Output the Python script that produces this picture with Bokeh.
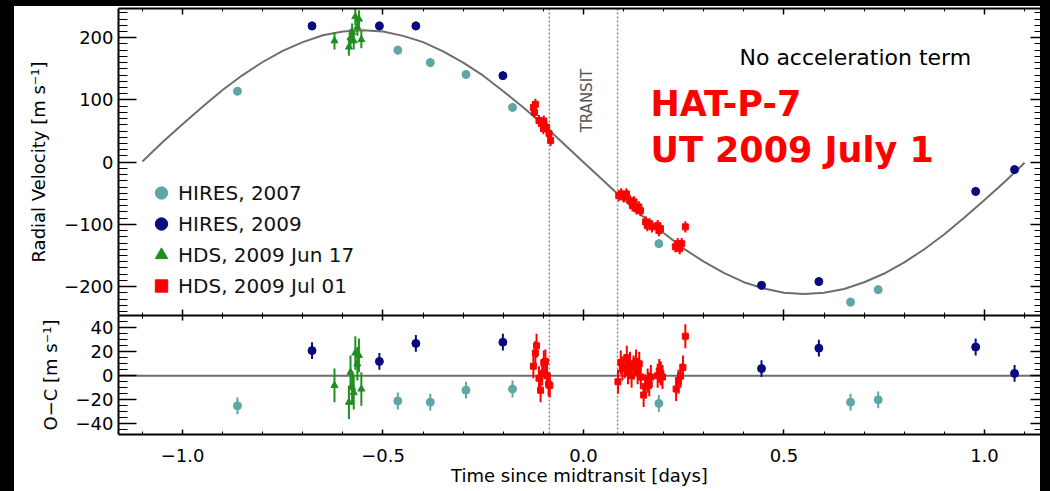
from bokeh.plotting import figure
from bokeh.models import (Range1d, LinearAxis, SingleIntervalTicker, CustomJSTickFormatter,
                          CustomLabelingPolicy, Span, Label, Legend, LegendItem,
                          ColumnDataSource, Spacer)
from bokeh.layouts import column, row
from bokeh.embed import file_html
from bokeh.resources import INLINE

# ---------------- data ----------------
# HIRES 2007
h07_t = [-0.863, -0.463, -0.382, -0.293, -0.177, 0.188, 0.666, 0.735]
h07_rv = [114, 180, 160, 141, 88, -131, -225, -205]
h07_oc = [-25, -21, -22, -12, -11, -23, -22, -20]
h07_err = [7, 7, 7, 7, 7, 7, 7, 7]

# HIRES 2009
h09_t = [-0.677, -0.509, -0.418, -0.201, 0.444, 0.587, 0.978, 1.075]
h09_rv = [219, 219, 219, 139, -198, -192, -47, -12]
h09_oc = [21, 12, 27, 28, 6, 23, 24, 2]
h09_err = [7, 7, 7, 7, 7, 7, 7, 7]

# HDS 2009 Jun 17
jun_t = [-0.621, -0.585, -0.581, -0.577, -0.573, -0.569, -0.564, -0.560, -0.554]
jun_rv = [195, 185, 200, 209, 195, 234, 217, 230, 197]
jun_oc = [-8, -22, 3, -10, -14, 19, 10, 17, -11]
jun_err = [14, 14, 14, 14, 14, 14, 14, 14, 14]

# HDS 2009 Jul 01 (radial velocity panel)
jul_t = [-0.125, -0.120, -0.122, -0.111, -0.105, -0.099, -0.100, -0.092, -0.086, -0.082,
         0.088, 0.094, 0.100, 0.107, 0.116, 0.122, 0.126, 0.132, 0.138, 0.142, 0.155,
         0.159, 0.165, 0.171, 0.185, 0.188, 0.192, 0.229, 0.235, 0.240, 0.245, 0.254]
jul_rv = [88, 93, 80, 67, 62, 66, 54, 56, 46, 35,
          -54, -51, -56, -51, -62, -70, -64, -75, -72, -78, -96,
          -102, -99, -104, -102, -110, -107, -136, -131, -139, -131, -104]
jul_err = [9] * 32

# HDS 2009 Jul 01 (residual panel)
julr_t = [-0.125, -0.120, -0.117, -0.111, -0.107, -0.103, -0.099, -0.095, -0.091, -0.087, -0.084,
          0.086, 0.093, 0.097, 0.103, 0.108, 0.111, 0.116, 0.120, 0.125, 0.131, 0.135, 0.139,
          0.143, 0.150, 0.154, 0.160, 0.164, 0.168, 0.185, 0.189, 0.193, 0.197, 0.231, 0.237,
          0.242, 0.248, 0.254]
julr_oc = [8, 19, 25, -2, -12, 2, 11, 12, 0, -7, -8,
           -5, 11, 6, 8, 15, 3, 10, 0, 7, 12, 3, 10,
           -1, -16, -9, -4, -7, -1, 0, 4, 2, -1, -11, -5,
           0, 7, 33]
julr_err = [10] * 38

# model curve
curve_t = [-1.10, -1.05, -1.00, -0.95, -0.90, -0.85, -0.80, -0.75, -0.70, -0.65, -0.60,
           -0.55, -0.50, -0.45, -0.40, -0.35, -0.30, -0.25, -0.20, -0.15, -0.10, -0.05,
           0.00, 0.05, 0.10, 0.15, 0.20, 0.25, 0.30, 0.35, 0.40, 0.45, 0.50, 0.55, 0.60,
           0.65, 0.70, 0.75, 0.80, 0.85, 0.90, 0.95, 1.00, 1.05, 1.10]
curve_rv = [1, 32, 61, 89, 116, 140, 161, 179, 193, 204, 210,
            212, 210, 203, 193, 178, 160, 139, 114, 88, 60, 30,
            0, -30, -60, -88, -114, -139, -160, -178, -193, -203, -210, -212, -210,
            -204, -193, -179, -161, -140, -116, -89, -61, -32, -1]

transit_edges = [-0.085, 0.085]

series_labels = ["HIRES, 2007", "HIRES, 2009", "HDS, 2009 Jun 17", "HDS, 2009 Jul 01"]

# ---------------- style ----------------
FONT = "DejaVu Sans"
C07 = "#5fa6a6"
C09 = "#0a0a80"
CJUN = "#1f8f1f"
CJUL = "#ff0000"
GREY = "#6e6e6e"
X_RANGE = (-1.1596, 1.1397)

xfmt = CustomJSTickFormatter(code="return tick.toFixed(1).replace('-', '\\u2212');")
yfmt = CustomJSTickFormatter(code="return tick.toFixed(0).replace('-', '\\u2212');")
blankfmt = CustomJSTickFormatter(code="return '';")
hide_all = CustomLabelingPolicy(code="for (const i of Array.from(indices)) { indices.unset(i) }; return indices")


def base_fig(height, yr, mb_top, mb_bottom):
    p = figure(width=1026, height=height, x_range=Range1d(*X_RANGE), y_range=Range1d(*yr),
               output_backend="svg", toolbar_location=None,
               min_border_left=104, min_border_right=0,
               min_border_top=mb_top, min_border_bottom=mb_bottom)
    p.xgrid.visible = False
    p.ygrid.visible = False
    p.outline_line_color = None
    p.background_fill_color = "white"
    p.border_fill_color = "white"
    return p


def common_ticks(ax, tick_major, tick_minor, line=True):
    ax.major_tick_in = tick_major
    ax.major_tick_out = 0
    ax.minor_tick_in = tick_minor
    ax.minor_tick_out = 0
    ax.major_tick_line_width = 1.5
    ax.minor_tick_line_width = 1
    ax.major_tick_line_color = "black"
    ax.minor_tick_line_color = "black"
    ax.axis_line_width = 2
    ax.axis_line_color = "black" if line else None


def labels_on(ax, fmt):
    ax.formatter = fmt
    ax.major_label_text_font = FONT
    ax.major_label_text_font_size = "18px"
    ax.major_label_text_color = "black"


def labels_off(ax):
    ax.formatter = blankfmt
    ax.major_label_policy = hide_all
    ax.major_label_text_font_size = "1px"
    ax.major_label_standoff = 0
    ax.axis_label = None


def style_x(ax, tick_major, tick_minor, labels):
    ax.ticker = SingleIntervalTicker(interval=0.5, num_minor_ticks=5)
    common_ticks(ax, tick_major, tick_minor)
    if labels:
        labels_on(ax, xfmt)
        ax.major_label_standoff = 14
    else:
        labels_off(ax)


def style_y(ax, interval, nminor, tick_major, tick_minor, labels, line=True):
    ax.ticker = SingleIntervalTicker(interval=interval, num_minor_ticks=nminor)
    common_ticks(ax, tick_major, tick_minor, line)
    if labels:
        labels_on(ax, yfmt)
        ax.major_label_standoff = 5
    else:
        labels_off(ax)


def axis_title(ax, text, standoff):
    ax.axis_label = text
    ax.axis_label_text_font = FONT
    ax.axis_label_text_font_size = "18px"
    ax.axis_label_text_font_style = "normal"
    ax.axis_label_text_color = "black"
    ax.axis_label_standoff = standoff


def errbars(p, t, v, e, color, width):
    src = ColumnDataSource(dict(x=t, lo=[a - b for a, b in zip(v, e)],
                                hi=[a + b for a, b in zip(v, e)]))
    p.segment(x0="x", y0="lo", x1="x", y1="hi", source=src, line_color=color, line_width=width)


def points(p, t, v, marker, size, color):
    return p.scatter(t, v, marker=marker, size=size, fill_color=color, line_color=color)


# ---------------- top panel ----------------
p1 = base_fig(309, (-246.5, 247), 2, 0)
style_x(p1.xaxis[0], 6, 3, False)
top1 = LinearAxis()
p1.add_layout(top1, "above")
style_x(top1, 6, 3, False)
style_y(p1.yaxis[0], 100, 10, 18, 9, True)
right1 = LinearAxis()
p1.add_layout(right1, "right")
style_y(right1, 100, 10, 10, 6, False, line=False)
axis_title(p1.yaxis[0], "Radial Velocity [m s\u207b\u00b9]", 12)

for loc in transit_edges:
    p1.add_layout(Span(location=loc, dimension="height", line_color="#8a8a8a",
                       line_width=1.5, line_dash="2 2", level="underlay"))

p1.line(curve_t, curve_rv, line_color=GREY, line_width=2)

errbars(p1, h07_t, h07_rv, h07_err, C07, 2)
r07 = points(p1, h07_t, h07_rv, "circle", 8, C07)
errbars(p1, h09_t, h09_rv, h09_err, C09, 2)
r09 = points(p1, h09_t, h09_rv, "circle", 8, C09)
errbars(p1, jun_t, jun_rv, jun_err, CJUN, 2)
rjun = points(p1, jun_t, jun_rv, "triangle", 7, CJUN)
errbars(p1, jul_t, jul_rv, jul_err, CJUL, 2)
rjul = points(p1, jul_t, jul_rv, "square", 6, CJUL)

legend = Legend(items=[LegendItem(label=series_labels[0], renderers=[r07]),
                       LegendItem(label=series_labels[1], renderers=[r09]),
                       LegendItem(label=series_labels[2], renderers=[rjun]),
                       LegendItem(label=series_labels[3], renderers=[rjul])],
                location=(26, 14), glyph_width=34, glyph_height=31, spacing=0,
                label_standoff=0, padding=0, margin=0,
                label_text_font=FONT, label_text_font_size="20px",
                label_text_color="#111111",
                background_fill_alpha=0, border_line_color=None)
p1.add_layout(legend)

p1.add_layout(Label(x=0.389, y=168, text="No acceleration term", text_font=FONT,
                    text_font_size="22px", text_color="black", text_baseline="alphabetic"))
p1.add_layout(Label(x=0.01, y=99, text="TRANSIT", angle=1.5708, text_font=FONT,
                    text_font_size="15px", text_color="#555555",
                    text_align="center", text_baseline="middle"))
p1.add_layout(Label(x=0.167, y=94, text="HAT-P-7", text_font=FONT, text_font_size="35px",
                    text_font_style="bold", text_color=CJUL, text_baseline="alphabetic"))
p1.add_layout(Label(x=0.167, y=19, text="UT 2009 July 1", text_font=FONT,
                    text_font_size="35px", text_font_style="bold", text_color=CJUL,
                    text_baseline="alphabetic"))

# ---------------- residual panel ----------------
p2 = base_fig(176, (-48.9, 50.25), 0, 57)
style_x(p2.xaxis[0], 5, 3, True)
axis_title(p2.xaxis[0], "Time since midtransit [days]", 0)
top2 = LinearAxis()
p2.add_layout(top2, "above")
style_x(top2, 5, 3, False)
style_y(p2.yaxis[0], 20, 4, 18, 9, True)
right2 = LinearAxis()
p2.add_layout(right2, "right")
style_y(right2, 20, 4, 10, 6, False, line=False)
axis_title(p2.yaxis[0], "O\u2212C [m s\u207b\u00b9]", 12)

p2.add_layout(Span(location=0, dimension="width", line_color=GREY, line_width=2,
                   level="underlay"))
for loc in transit_edges:
    p2.add_layout(Span(location=loc, dimension="height", line_color="#8a8a8a",
                       line_width=1.5, line_dash="2 2", level="underlay"))

errbars(p2, h07_t, h07_oc, h07_err, C07, 2)
points(p2, h07_t, h07_oc, "circle", 8, C07)
errbars(p2, h09_t, h09_oc, h09_err, C09, 2)
points(p2, h09_t, h09_oc, "circle", 8, C09)
errbars(p2, jun_t, jun_oc, jun_err, CJUN, 2)
points(p2, jun_t, jun_oc, "triangle", 7, CJUN)
errbars(p2, julr_t, julr_oc, julr_err, CJUL, 2)
points(p2, julr_t, julr_oc, "square", 6, CJUL)

black = {"background-color": "black"}
layout = row(Spacer(width=14, height=491, styles=black),
             column(Spacer(width=1026, height=6, styles=black), p1, p2),
             Spacer(width=10, height=491, styles=black))

open("out.html", "w").write(file_html(layout, INLINE))
